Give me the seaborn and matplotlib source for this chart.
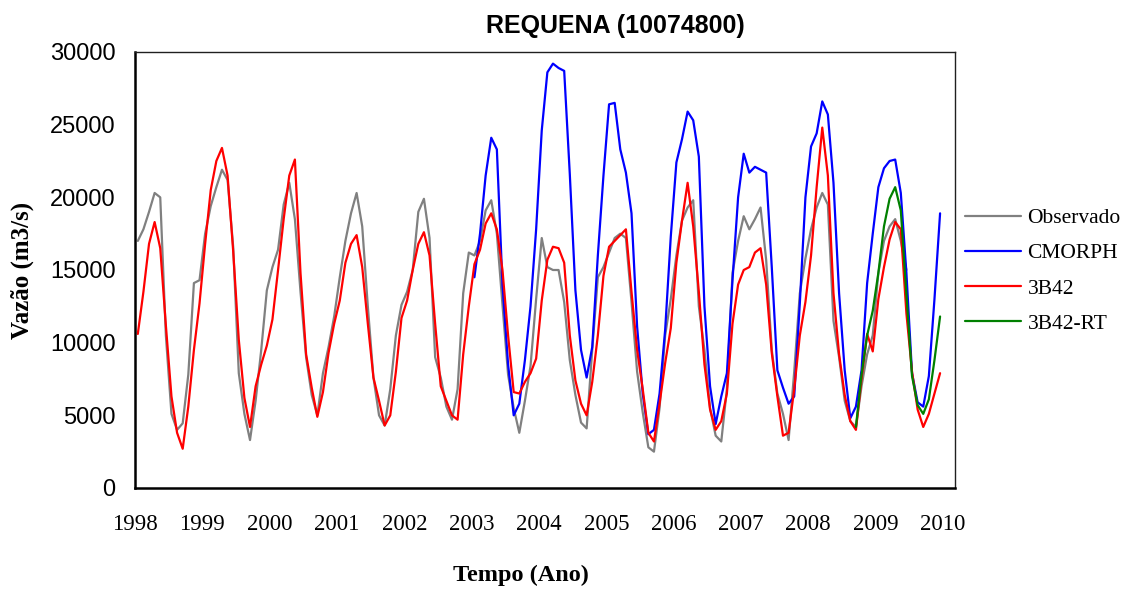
import matplotlib
matplotlib.use("Agg")
import matplotlib.pyplot as plt
from matplotlib.lines import Line2D
import numpy as np
import pandas as pd
import seaborn as sns

# Monthly mean discharge (m3/s) at Requena, series start (year, month)
obs_start = (1998, 1)
observado = [
    17000, 17800, 19000, 20300, 20000, 10500, 5100, 4000, 4450, 7800, 14100, 14300,   # 1998
    17500, 19400, 20700, 21900, 21200, 16600, 7900, 5100, 3300, 6000, 9500, 13600,    # 1999
    15200, 16400, 19500, 21000, 18500, 13500, 9000, 6400, 5000, 7900, 9700, 11800,    # 2000
    14500, 17000, 18900, 20300, 18000, 12500, 7600, 5000, 4300, 6800, 10500, 12600,   # 2001
    13500, 15000, 19000, 19900, 17200, 9000, 7600, 5600, 4700, 6800, 13400, 16200,    # 2002
    16000, 17000, 19100, 19800, 17500, 12600, 7800, 5500, 3800, 6000, 8400, 13000,    # 2003
    17200, 15200, 15000, 15000, 12800, 8800, 6400, 4500, 4100, 9500, 14500, 15200,    # 2004
    16200, 17200, 17500, 17200, 12800, 8000, 5200, 2800, 2500, 5500, 10500, 13000,    # 2005
    16000, 18400, 19300, 19800, 12500, 9500, 5500, 3600, 3200, 6800, 14800, 17000,    # 2006
    18700, 17800, 18500, 19300, 15700, 9500, 6500, 5100, 3300, 8000, 13400, 15800,    # 2007
    17800, 19300, 20300, 19500, 11500, 9000, 6000, 4600, 4200, 7000, 9200, 10500,     # 2008
    14800, 17000, 18000, 18500, 17000, 15000,                                          # 2009
]

cmorph_start = (2003, 1)
cmorph = [
    14500, 17500, 21500, 24100, 23300, 14000, 8500, 5000, 5800, 8800, 12500, 17800,   # 2003
    24600, 28600, 29200, 28900, 28700, 21600, 13600, 9500, 7600, 9700, 16000, 21500,  # 2004
    26400, 26500, 23300, 21700, 18900, 11100, 6500, 3700, 4000, 6500, 10900, 17300,   # 2005
    22400, 24000, 25900, 25300, 22800, 12500, 7000, 4400, 6300, 7900, 14300, 20000,   # 2006
    23000, 21700, 22100, 21900, 21700, 15200, 8100, 6900, 5800, 6300, 12700, 20000,   # 2007
    23500, 24400, 26600, 25700, 21000, 13400, 8100, 4800, 5600, 8100, 14100, 17500,   # 2008
    20700, 22000, 22500, 22600, 20300, 14800, 7900, 5900, 5600, 7700, 13000, 18900,   # 2009
]

b42_start = (1998, 1)
b42 = [
    10600, 13500, 16800, 18300, 16500, 11200, 6300, 3800, 2700, 5600, 9500, 12700,    # 1998
    16800, 20500, 22500, 23400, 21500, 16300, 10200, 6200, 4200, 7000, 8500, 9800,    # 1999
    11600, 15000, 18500, 21500, 22600, 14800, 9200, 6900, 4900, 6600, 9300, 11300,    # 2000
    12900, 15500, 16800, 17400, 15200, 11300, 7600, 6000, 4300, 5000, 8000, 11700,    # 2001
    12900, 15000, 16800, 17600, 16000, 11300, 7000, 6000, 5000, 4700, 9200, 12500,    # 2002
    15400, 16400, 18200, 18900, 17800, 15000, 10500, 6600, 6500, 7300, 7900, 8900,    # 2003
    12900, 15700, 16600, 16500, 15500, 10500, 7400, 5800, 5000, 7300, 10500, 14600,   # 2004
    16600, 17000, 17400, 17800, 13500, 9500, 6800, 3800, 3200, 5800, 8600, 11000,     # 2005
    15500, 18400, 21000, 18000, 13500, 8500, 5400, 4000, 4600, 6500, 11300, 14000,    # 2006
    15000, 15200, 16200, 16500, 14000, 9300, 6300, 3600, 3800, 6800, 10500, 12800,    # 2007
    16000, 20700, 24800, 21500, 13400, 9200, 6400, 4600, 4000, 7500, 10600, 9400,     # 2008
    13000, 15200, 17100, 18300, 17800, 12000, 8000, 5400, 4200, 5100, 6500, 7900,     # 2009
]

rt_start = (2008, 9)
b42_rt = [
    4200, 7800, 10500, 12200,                                                          # 2008
    14800, 18000, 19900, 20700, 19100, 13300, 7700, 5700, 5100, 6100, 8800, 11800,    # 2009
]

series_names = ["Observado", "CMORPH", "3B42", "3B42-RT"]
series_colors = ["#808080", "#0000ff", "#ff0000", "#008000"]
year_ticks = list(range(1998, 2011))
y_ticks = list(range(0, 30001, 5000))


def monthly_frame(name, start, values):
    y0, m0 = start
    idx = np.arange(len(values))
    t = y0 + (m0 - 1 + idx + 0.5) / 12.0
    return pd.DataFrame({"tempo": t, "vazao": values, "serie": name})


df = pd.concat([
    monthly_frame("Observado", obs_start, observado),
    monthly_frame("CMORPH", cmorph_start, cmorph),
    monthly_frame("3B42", b42_start, b42),
    monthly_frame("3B42-RT", rt_start, b42_rt),
], ignore_index=True)

sns.set_style("white")
plt.rcParams["font.family"] = ["Liberation Serif", "DejaVu Serif"]
plt.rcParams["text.color"] = "black"
plt.rcParams["axes.labelcolor"] = "black"

fig = plt.figure(figsize=(11.32, 5.92), dpi=100)
ax = fig.add_axes([135 / 1132, 1 - 488 / 592, (955 - 135) / 1132, (488 - 52) / 592])

palette = dict(zip(series_names, series_colors))
sns.lineplot(data=df, x="tempo", y="vazao", hue="serie", hue_order=series_names,
             palette=palette, linewidth=1.6, estimator=None, sort=False,
             legend=False, ax=ax)

ax.set_xlim(1998, 2010.18)
ax.set_ylim(0, 30000)
ax.set_xticks(year_ticks)
ax.set_xticklabels([str(y) for y in year_ticks], fontsize=16.5,
                   family=["Liberation Serif", "DejaVu Serif"])
ax.set_yticks(y_ticks)
ax.set_yticklabels([str(v) for v in y_ticks], fontsize=17,
                   family=["Liberation Sans", "DejaVu Sans"])
ax.tick_params(axis="x", direction="in", length=5, width=1, pad=19, colors="black")
ax.tick_params(axis="y", direction="out", length=5, width=1, pad=9, colors="black")
ax.set_xlabel("")
ax.set_ylabel("")

for side in ["left", "bottom"]:
    ax.spines[side].set_linewidth(1.8)
    ax.spines[side].set_color("black")
for side in ["top", "right"]:
    ax.spines[side].set_linewidth(1.0)
    ax.spines[side].set_color("#202020")

fig.text(615 / 1132, 1 - 26 / 592, "REQUENA (10074800)", ha="center", va="center",
         fontsize=18, fontweight="bold", color="black",
         family=["Liberation Sans", "DejaVu Sans"])
fig.text(521 / 1132, 1 - 575 / 592, "Tempo (Ano)", ha="center", va="center",
         fontsize=17.5, fontweight="bold", color="black")
fig.text(22 / 1132, 1 - 270 / 592, "Vazão (m3/s)", ha="center", va="center",
         rotation=90, fontsize=18, fontweight="bold", color="black")

handles = [Line2D([0], [0], color=c, linewidth=1.6) for c in series_colors]
leg = fig.legend(handles, series_names, loc="center left",
                 bbox_to_anchor=(965 / 1132, 1 - 271 / 592), frameon=False,
                 fontsize=15.5, handlelength=2.6, handletextpad=0.3,
                 labelspacing=0.7, borderpad=0, borderaxespad=0)
for txt in leg.get_texts():
    txt.set_color("black")

fig.savefig("out.png", dpi=100)
